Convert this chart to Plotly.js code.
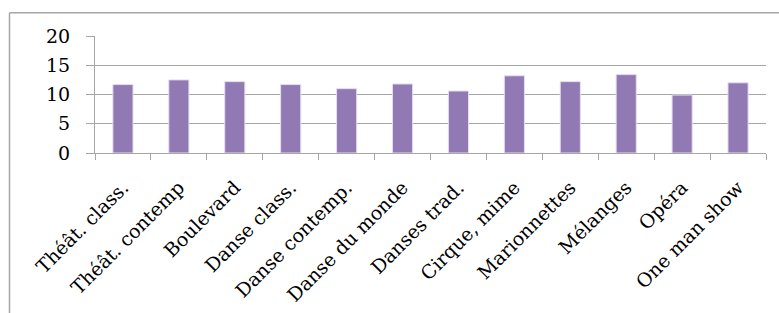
<!DOCTYPE html>
<html><head><meta charset="utf-8">
<script src="https://cdn.plot.ly/plotly-3.0.1.min.js"></script>
<style>html,body{margin:0;padding:0;background:#fff;}#c{width:779px;height:313px;}</style>
</head><body><div id="c"></div>
<script>
const categories = ["Théât. class.","Théât. contemp","Boulevard","Danse class.","Danse contemp.","Danse du monde","Danses trad.","Cirque, mime","Marionnettes","Mélanges","Opéra","One man show"];
const values = [11.7, 12.5, 12.2, 11.7, 11.0, 11.8, 10.6, 13.2, 12.2, 13.4, 9.9, 12.0];
const yTicks = [0, 5, 10, 15, 20];

const grey = '#a6a6a6';
const trace = {
  type: 'bar', x: categories, y: values,
  marker: {color: '#917ab3', line: {color: '#e4def0', width: 1}},
  width: 0.36, hoverinfo: 'skip'
};
const layout = {
  width: 779, height: 313,
  margin: {l: 95, r: 13, t: 36, b: 160, pad: 0},
  paper_bgcolor: '#fff', plot_bgcolor: '#fff',
  showlegend: false,
  font: {family: '"DejaVu Serif", serif', color: '#000'},
  xaxis: {
    type: 'category', tickangle: -45, tickfont: {size: 19},
    showline: true, linecolor: grey, linewidth: 1,
    ticks: 'outside', tickson: 'boundaries', ticklen: 6, tickcolor: grey,
    ticklabelstandoff: 15,
    showgrid: false, automargin: false
  },
  yaxis: {
    range: [0, 20], tickvals: yTicks, ticktext: yTicks.map(String),
    tickfont: {size: 19},
    showline: true, linecolor: grey, linewidth: 1,
    ticks: 'outside', ticklen: 8, tickcolor: grey,
    ticklabelstandoff: 12,
    showgrid: true, gridcolor: grey, gridwidth: 1, zeroline: false,
    automargin: false
  },
  shapes: [
    {type: 'line', xref: 'paper', yref: 'paper', x0: -0.1274, x1: 1.05, y0: 1.1986, y1: 1.1986, line: {color: grey, width: 1.5}},
    {type: 'line', xref: 'paper', yref: 'paper', x0: -0.1274, x1: -0.1274, y0: 1.1986, y1: -1.5, line: {color: grey, width: 1.5}}
  ]
};
Plotly.newPlot('c', [trace], layout, {staticPlot: true, displayModeBar: false});
</script></body></html>
